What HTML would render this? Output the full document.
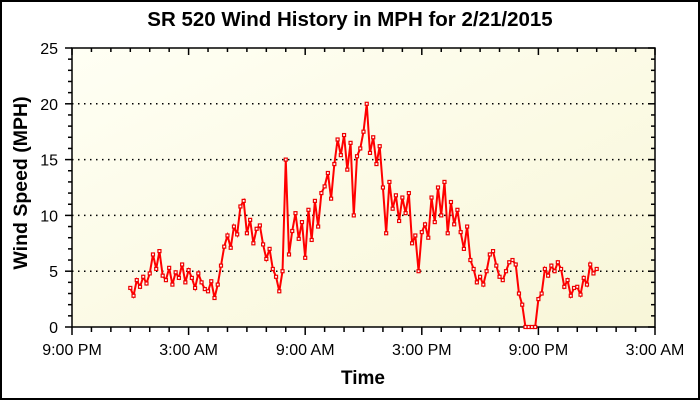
<!DOCTYPE html>
<html><head><meta charset="utf-8"><style>
body{margin:0;background:#fff}
svg{display:block;font-family:"Liberation Sans",Arial,sans-serif}
</style></head><body>
<svg id="chart" width="700" height="400" viewBox="0 0 700 400">
<defs>
<linearGradient id="bg" x1="0" y1="0" x2="1" y2="1">
<stop offset="0" stop-color="#fffff4"/><stop offset="1" stop-color="#f8f6d8"/>
</linearGradient>
</defs>
<rect x="1" y="1" width="698" height="398" fill="#fff" stroke="#000" stroke-width="2"/>
<text x="350" y="26" text-anchor="middle" font-size="20.5" font-weight="bold">SR 520 Wind History in MPH for 2/21/2015</text>
<rect x="72" y="48" width="583" height="279" fill="url(#bg)"/>
<g id="grid"></g>
<g id="axes"></g>
<g id="series"></g>
<text x="363" y="384" text-anchor="middle" font-size="19" font-weight="bold">Time</text>
<text transform="translate(27,183) rotate(-90)" text-anchor="middle" font-size="19.5" font-weight="bold">Wind Speed (MPH)</text>
</svg>
<script>
// hours since 9:00 PM start; data sampled every 10 minutes from 12:00 AM (hour 3)
const startHour = 3;
const stepHours = 1/6;
const windSpeed = [
3.5,2.8,4.2,3.6,4.5,3.9,
4.8,6.5,5.2,6.8,4.6,4.2,
5.3,3.8,4.9,4.4,5.6,4.0,
5.1,4.4,3.5,4.8,4.0,3.4,
3.2,4.1,2.6,3.8,5.5,7.2,
8.2,7.1,9.0,8.3,10.8,11.3,
8.4,9.6,7.5,8.8,9.1,7.4,
6.1,7.0,5.2,4.5,3.2,5.0,
15.0,6.5,8.6,10.2,7.9,9.4,
6.2,10.5,7.8,11.3,9.0,12.0,
12.6,13.8,11.5,14.6,16.8,15.4,
17.2,14.1,16.5,10.0,15.3,16.0,
17.5,20.0,15.6,17.0,14.6,16.2,
12.5,8.4,13.0,10.6,11.8,9.5,
11.6,10.2,12.0,7.5,8.2,5.0,
8.5,9.2,8.0,11.6,9.4,12.5,
10.0,13.0,8.4,11.2,9.2,10.5,
8.5,7.0,9.0,6.0,5.2,4.0,
4.5,3.8,5.0,6.5,6.8,5.5,
4.5,4.2,5.0,5.8,6.0,5.6,
3.0,2.0,0,0,0,0,
2.5,3.0,5.2,4.6,5.5,5.0,
5.8,5.2,3.6,4.2,2.8,3.5,
3.6,2.9,4.4,3.8,5.6,4.8,
5.2];
const xTickLabels = ["9:00 PM","3:00 AM","9:00 AM","3:00 PM","9:00 PM","3:00 AM"];
const yTickLabels = [0,5,10,15,20,25];

const NS="http://www.w3.org/2000/svg";
const L=72,R=655,T=48,B=327,H0=0,H1=30,V0=0,V1=25;
const x=h=>L+(h-H0)/(H1-H0)*(R-L);
const y=v=>B-(v-V0)/(V1-V0)*(B-T);
function mk(tag,attrs,parent){const e=document.createElementNS(NS,tag);for(const k in attrs)e.setAttribute(k,attrs[k]);parent.appendChild(e);return e;}
const grid=document.getElementById('grid'),axes=document.getElementById('axes'),series=document.getElementById('series');

yTickLabels.forEach(v=>{
  if(v>0&&v<25){const g=mk('line',{x1:L,x2:R,y1:y(v),y2:y(v),stroke:'#000','stroke-width':1.5,'stroke-dasharray':'1.5 4.5'},grid);
  
  }
  const t=mk('text',{x:L-14,y:y(v)+6,'text-anchor':'end','font-size':16},axes);
  t.textContent=v;
  
  
});
for(let v=0;v<=25;v++){
  const len=v%5===0?7:4;
  mk('line',{x1:L-len,x2:L,y1:y(v),y2:y(v),stroke:'#000','stroke-width':1.5},axes);
  mk('line',{x1:R-len,x2:R,y1:y(v),y2:y(v),stroke:'#000','stroke-width':1.5},axes);
}
for(let h=0;h<=30;h++){
  const len=h%6===0?8:5;
  mk('line',{x1:x(h),x2:x(h),y1:B,y2:B+len,stroke:'#000','stroke-width':1.5},axes);
  mk('line',{x1:x(h),x2:x(h),y1:T,y2:T+len-1,stroke:'#000','stroke-width':1.5},axes);
}
xTickLabels.forEach((s,i)=>{
  const t=mk('text',{x:x(i*6),y:355,'text-anchor':'middle','font-size':16},axes);
  t.textContent=s;
  
  
});
mk('rect',{x:L,y:T,width:R-L,height:B-T,fill:'none',stroke:'#000','stroke-width':1.5},axes);

const pts=windSpeed.map((v,i)=>[x(startHour+i*stepHours),y(v)]);
const line=mk('polyline',{points:pts.map(p=>p.join(',')).join(' '),fill:'none',stroke:'#f00','stroke-width':2},series);


pts.forEach(p=>{
  const m=mk('rect',{x:p[0]-1.5,y:p[1]-1.5,width:3,height:3,fill:'#fff',stroke:'#e00','stroke-width':1.2},series);
  
  
});
</script>
</body></html>
